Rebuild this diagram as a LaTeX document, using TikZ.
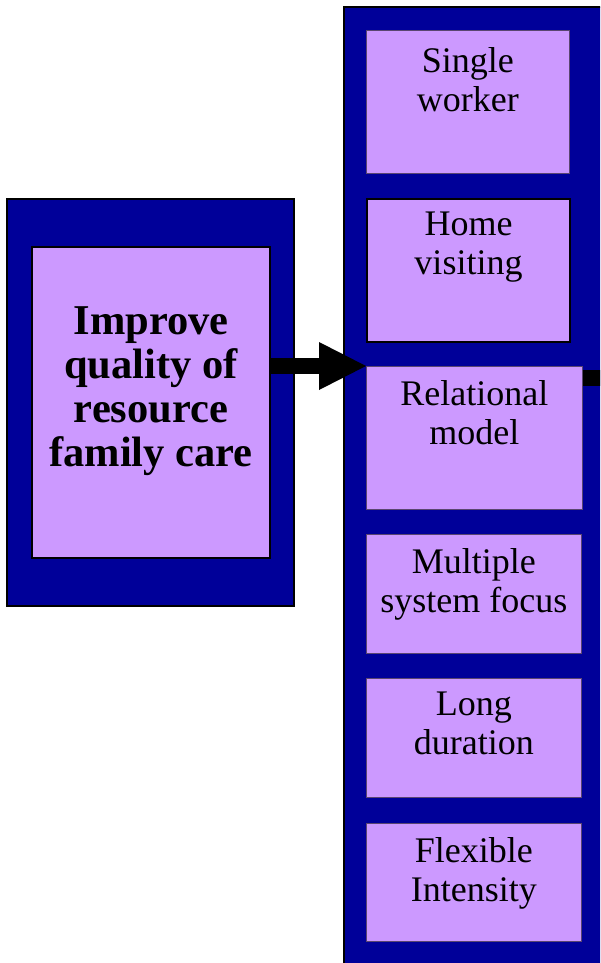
\documentclass[tikz,border=0pt]{standalone}
\usepackage{fontspec}
\setmainfont{Liberation Serif}
\usetikzlibrary{arrows.meta}
\definecolor{panelblue}{HTML}{000099}
\definecolor{lilac}{HTML}{CC99FF}
\definecolor{edgepurple}{HTML}{5A4670}
\begin{document}
\begin{tikzpicture}[x=1pt,y=-1pt,
  panel/.style={draw=black,line width=2pt,fill=panelblue,rectangle,inner sep=0pt,anchor=north west},
  card/.style={draw=edgepurple,line width=0.8pt,fill=lilac,rectangle,inner sep=0pt,anchor=north west},
  boldcard/.style={card,draw=black,line width=2pt},
  cardtext/.style={anchor=north,inner sep=0pt,align=center,font=\fontsize{36}{39}\selectfont},
  goaltext/.style={anchor=north,inner sep=0pt,align=center,font=\bfseries\fontsize{42.5}{44}\selectfont},
  flow/.style={line width=16pt,draw=black}]
\useasboundingbox (0,0) rectangle (600,963);
\clip (0,0) rectangle (600,963);

% goal panel on the left
\node[panel,minimum width=287pt,minimum height=407pt] (goal) at (6,198) {};
\node[boldcard,minimum width=238pt,minimum height=311pt] (aim) at (31,246) {};
\node[goaltext] (aimtext) at ([yshift=-60pt]aim.north) {Improve\\quality of\\resource\\family care};

% column of programme features on the right
\node[panel,minimum width=290pt,minimum height=990pt] (track) at (343,6) {};
\node[card,minimum width=203pt,minimum height=143pt] (single) at (366,30) {};
\node[boldcard,minimum width=203pt,minimum height=143pt] (home) at (366,198) {};
\node[card,minimum width=216pt,minimum height=143pt] (rel) at (366,366) {};
\node[card,minimum width=215pt,minimum height=119pt] (multi) at (366,534) {};
\node[card,minimum width=215pt,minimum height=119pt] (long) at (366,678) {};
\node[card,minimum width=215pt,minimum height=118pt] (flex) at (366,823) {};

\node[cardtext] (singletext) at ([yshift=-17pt]single.north) {Single\\worker};
\node[cardtext] (hometext) at ([yshift=-14pt]home.north) {Home\\visiting};
\node[cardtext] (reltext) at ([yshift=-14pt]rel.north) {Relational\\model};
\node[cardtext] (multitext) at ([yshift=-14pt]multi.north) {Multiple\\system focus};
\node[cardtext] (longtext) at ([yshift=-14pt]long.north) {Long\\duration};
\node[cardtext] (flextext) at ([yshift=-14pt]flex.north) {Flexible\\Intensity};

% connectors
\draw[flow,-{Triangle[length=47pt,width=48pt,line width=0pt]}] (aim.east |- rel.north) -- (rel.north west);
\coordinate (exit) at (620,378);
\draw[flow] (rel.east |- exit) -- (exit);
\end{tikzpicture}
\end{document}
